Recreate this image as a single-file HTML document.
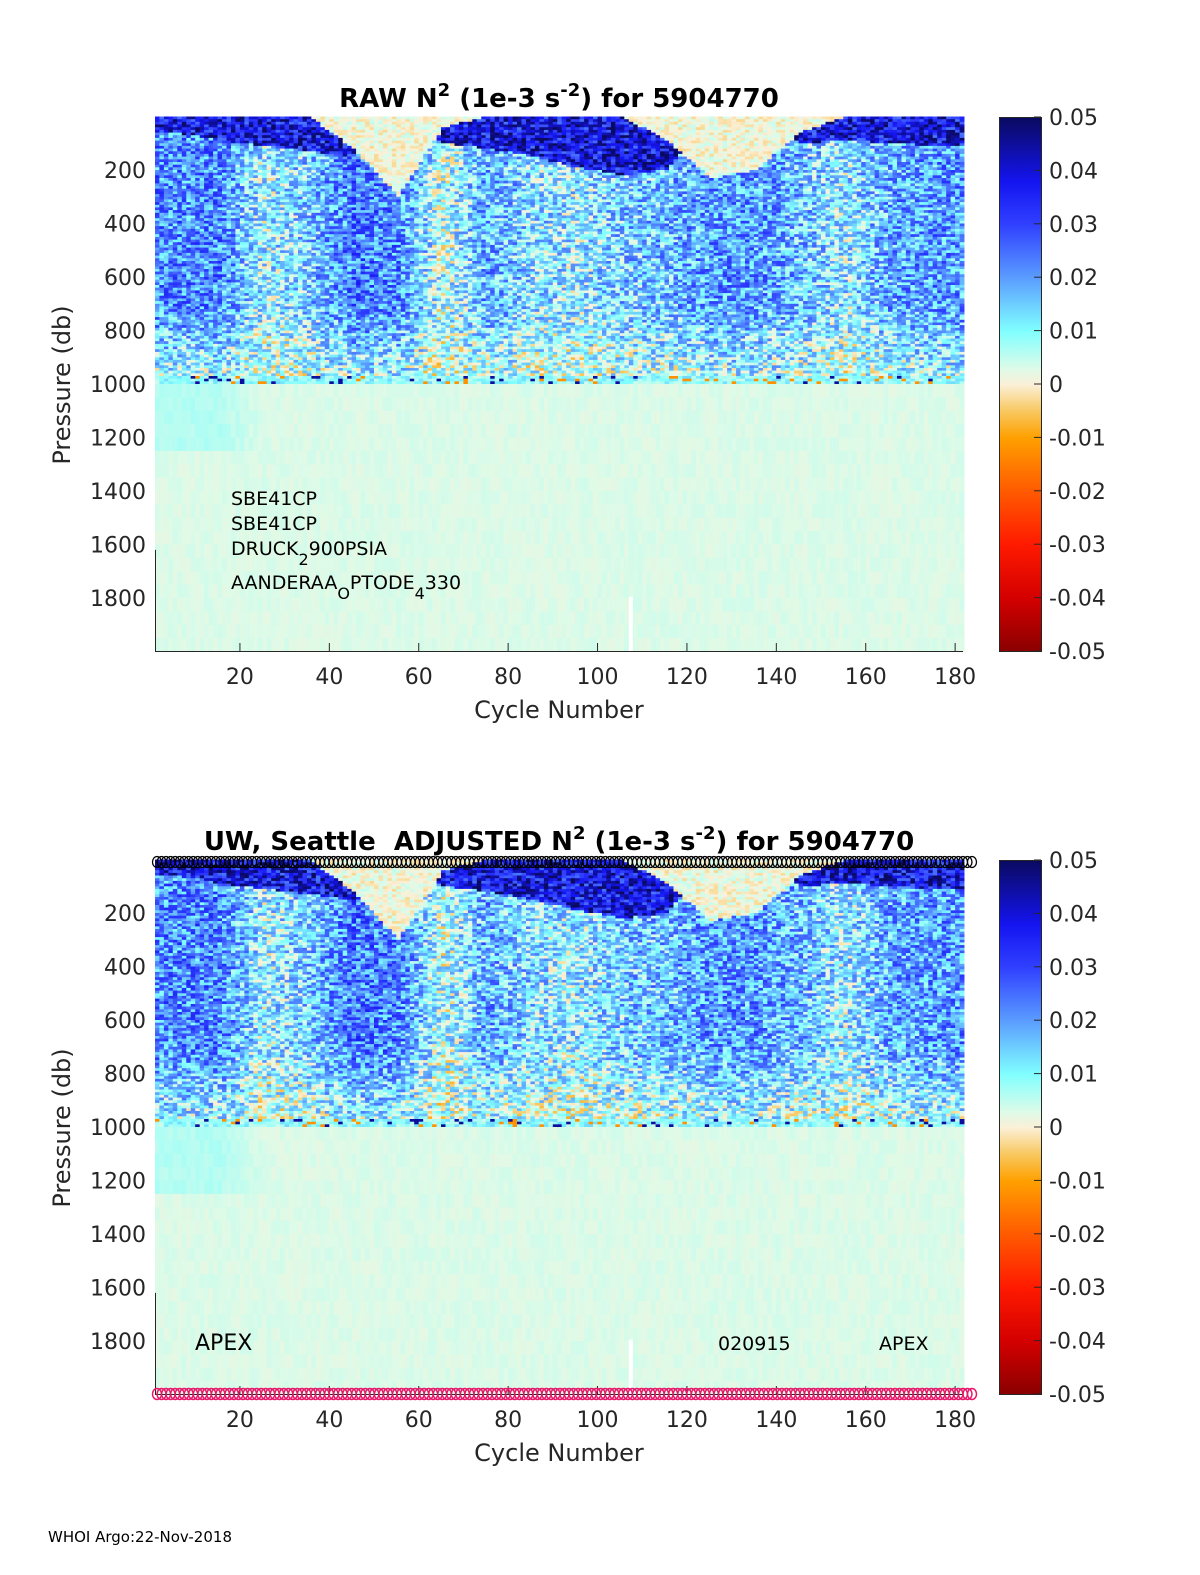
<!DOCTYPE html>
<html><head><meta charset="utf-8">
<style>
html,body{margin:0;padding:0;background:#fff;}
svg{display:block;font-family:"DejaVu Sans","Liberation Sans",sans-serif;}
</style></head>
<body>
<svg id="fig" width="1200" height="1575" viewBox="0 0 1200 1575" xmlns="http://www.w3.org/2000/svg">
<defs>
<linearGradient id="cmap" x1="0" y1="1" x2="0" y2="0">
<stop offset="0" stop-color="#8a0000"/>
<stop offset="0.1" stop-color="#d40000"/>
<stop offset="0.2" stop-color="#ff1a00"/>
<stop offset="0.3" stop-color="#ff5a00"/>
<stop offset="0.4" stop-color="#ffa000"/>
<stop offset="0.45" stop-color="#f8c860"/>
<stop offset="0.5" stop-color="#fbf0d8"/>
<stop offset="0.53" stop-color="#dcfbe8"/>
<stop offset="0.6" stop-color="#80ffff"/>
<stop offset="0.7" stop-color="#5a9cff"/>
<stop offset="0.8" stop-color="#3040ff"/>
<stop offset="0.88" stop-color="#1414f0"/>
<stop offset="1" stop-color="#0a0a60"/>
</linearGradient>
</defs>
<g id="panels"></g>
<text x="48" y="1542" font-size="15">WHOI Argo:22-Nov-2018</text>
</svg>
<script>
// per 10-cycle group data (group centres: cycles 5,15,...,175)
const groupCenters = [5,15,25,35,45,55,65,75,85,95,105,115,125,135,145,155,165,175];
const mixedLayerDepth = [0,0,0,0,120,300,40,0,0,0,0,90,230,200,60,0,0,0];
const darkLayerBottom = [60,90,110,130,150,0,100,120,150,190,220,200,0,0,100,90,100,110];
const interiorN2 = [0.022,0.022,0.009,0.014,0.024,0.022,0.006,0.018,0.012,0.010,0.014,0.016,0.020,0.020,0.016,0.010,0.018,0.020];
const deepN2 = [0.006,0.006,0.003,0.003,0.003,0.003,0.003,0.003,0.003,0.003,0.003,0.003,0.003,0.003,0.003,0.003,0.003,0.003];
const xTicks = [20,40,60,80,100,120,140,160,180];
const yTicks = [200,400,600,800,1000,1200,1400,1600,1800];
const cbTicks = [0.05,0.04,0.03,0.02,0.01,0,-0.01,-0.02,-0.03,-0.04,-0.05];
const nCycles = 181;

const NS='http://www.w3.org/2000/svg';
function xs(c){return 155+(c-1)*4.47;}
function ys(p,off){return off+116.5+p*0.2675;}
function cbY(v,off){return off+117+(0.05-v)/0.1*534;}
const cstops=[[-0.05,[138,0,0]],[-0.04,[212,0,0]],[-0.03,[255,26,0]],[-0.02,[255,90,0]],[-0.01,[255,160,0]],[-0.005,[248,200,96]],[0,[251,240,216]],[0.003,[220,251,232]],[0.01,[128,255,255]],[0.02,[90,156,255]],[0.03,[48,64,255]],[0.038,[20,20,240]],[0.05,[10,10,96]]];
function color(v){
  v=Math.max(-0.05,Math.min(0.05,v));
  for(let i=1;i<cstops.length;i++){
    if(v<=cstops[i][0]){const a=cstops[i-1],b=cstops[i];const t=(v-a[0])/(b[0]-a[0]);
      return 'rgb('+a[1].map((q,k)=>Math.round(q+(b[1][k]-q)*t)).join(',')+')';}
  }
  return 'rgb(10,10,96)';
}
function interp(arr,c){
  if(c<=groupCenters[0])return arr[0];
  for(let i=1;i<groupCenters.length;i++){if(c<=groupCenters[i]){const t=(c-groupCenters[i-1])/10;return arr[i-1]+(arr[i]-arr[i-1])*t;}}
  return arr[arr.length-1];
}
// texture hash (visual speckle only)
function tex(a,b,s){let h=(a*374761393+b*668265263+s*982451653)|0;h=Math.imul(h^(h>>>13),1274126177);h=h^(h>>>16);return ((h>>>0)%10000)/5000-1;}
function value(c,p,seed){
  const mld=interp(mixedLayerDepth,c), db=interp(darkLayerBottom,c), iv=interp(interiorN2,c), dv=interp(deepN2,c);
  const n=tex(c,Math.round(p),seed);
  if(p>=975&&p<=995){ if(Math.abs(n)>0.85) return n>0?0.045:-0.012; return 0.009+n*0.006; }
  if(p>995) return (p<1250?dv:0.003)+n*0.0009;
  if(p<mld) return 0.001+n*0.004;
  if(p<db) return 0.038+n*0.014;
  const fade=p>700?(1-(p-700)/450):1;
  return iv*fade+n*0.013;
}
function addText(g,x,y,s,size,attrs,name){
  const t=document.createElementNS(NS,'text');t.setAttribute('x',x);t.setAttribute('y',y);t.setAttribute('font-size',size);
  for(const k in attrs)t.setAttribute(k,attrs[k]);t.textContent=s;
  
  
  g.appendChild(t);return t;
}
function panel(off,seed,titleHTML,name){
  const g=document.createElementNS(NS,'g');
  
  
  document.getElementById('panels').appendChild(g);
  const hm=document.createElementNS(NS,'g');
  
  
  g.appendChild(hm);
  const w=4.47;
  for(let c=1;c<=nCycles;c++){
    const x=xs(c)-w/2+2.2;
    for(let p=0;p<2000;){
      const dp=p<1000?10:50;
      const r=document.createElementNS(NS,'rect');
      r.setAttribute('x',x.toFixed(1));r.setAttribute('y',ys(p,off).toFixed(1));
      r.setAttribute('width',(w+0.4).toFixed(2));r.setAttribute('height',(dp*0.2675+0.4).toFixed(2));
      r.setAttribute('fill',color(value(c,p+dp/2,seed)));
      
      
      hm.appendChild(r);
      p+=dp;
    }
  }
  const gap=document.createElementNS(NS,'rect');
  gap.setAttribute('x',xs(107));gap.setAttribute('y',ys(1795,off));gap.setAttribute('width',4);gap.setAttribute('height',ys(2000,off)-ys(1795,off));gap.setAttribute('fill','#fff');
  
  
  g.appendChild(gap);
  const ax=document.createElementNS(NS,'path');
  ax.setAttribute('d','M155.5 '+ys(1620,off)+' V'+(off+651.5)+' H963');
  ax.setAttribute('stroke','#262626');ax.setAttribute('fill','none');ax.setAttribute('stroke-width','1');
  
  
  g.appendChild(ax);
  xTicks.forEach(t=>{
    const l=document.createElementNS(NS,'line');l.setAttribute('x1',xs(t));l.setAttribute('x2',xs(t));l.setAttribute('y1',off+651);l.setAttribute('y2',off+643);l.setAttribute('stroke','#262626');
    
    
    g.appendChild(l);
    addText(g,xs(t),off+684,String(t),22,{'text-anchor':'middle',fill:'#262626'},'x-tick-label');
  });
  yTicks.forEach(t=>{
    addText(g,146,ys(t,off)+8,String(t),22,{'text-anchor':'end',fill:'#262626'},'y-tick-label');
  });
  addText(g,559,off+718,'Cycle Number',24,{'text-anchor':'middle',fill:'#262626'},'x-axis-title');
  addText(g,0,0,'Pressure (db)',24,{'text-anchor':'middle',fill:'#262626',transform:'translate(70,'+(off+385)+') rotate(-90)'},'y-axis-title');
  const tt=document.createElementNS(NS,'text');tt.setAttribute('x',559);tt.setAttribute('y',off+107);tt.setAttribute('text-anchor','middle');tt.setAttribute('font-size','26');tt.setAttribute('font-weight','bold');
  tt.innerHTML=titleHTML;
  
  
  g.appendChild(tt);
  const cb=document.createElementNS(NS,'rect');cb.setAttribute('x',999.5);cb.setAttribute('y',off+117.5);cb.setAttribute('width',42);cb.setAttribute('height',534);cb.setAttribute('fill','url(#cmap)');cb.setAttribute('stroke','#262626');
  
  
  g.appendChild(cb);
  cbTicks.forEach(v=>{
    const y=cbY(v,off);
    const l=document.createElementNS(NS,'line');l.setAttribute('x1',1034);l.setAttribute('x2',1041);l.setAttribute('y1',y);l.setAttribute('y2',y);l.setAttribute('stroke','#262626');
    
    
    g.appendChild(l);
    addText(g,1049,y+8,String(v),22,{fill:'#262626'},'colorbar-tick-label');
  });
  return g;
}
const topPanel=panel(0,1,'RAW N<tspan dy="-11" font-size="18">2</tspan><tspan dy="11"> (1e-3 s</tspan><tspan dy="-11" font-size="18">-2</tspan><tspan dy="11">) for 5904770</tspan>','raw-panel');
const sensors=document.createElementNS(NS,'g');


topPanel.appendChild(sensors);
sensors.innerHTML='<text x="231" y="505" font-size="19">SBE41CP</text><text x="231" y="530" font-size="19">SBE41CP</text><text x="231" y="555" font-size="19">DRUCK<tspan dy="10" font-size="16">2</tspan><tspan dy="-10">900PSIA</tspan></text><text x="231" y="589" font-size="19">AANDERAA<tspan dy="10" font-size="16">O</tspan><tspan dy="-10">PTODE</tspan><tspan dy="10" font-size="16">4</tspan><tspan dy="-10">330</tspan></text>';
const OFF=743;
const botPanel=panel(OFF,2,'UW, Seattle&#160; ADJUSTED N<tspan dy="-11" font-size="18">2</tspan><tspan dy="11"> (1e-3 s</tspan><tspan dy="-11" font-size="18">-2</tspan><tspan dy="11">) for 5904770</tspan>','adjusted-panel');
for(let c=1;c<=nCycles;c++){
  const cx=157+(c-1)*(972-157)/(nCycles-1);
  const a=document.createElementNS(NS,'ellipse');a.setAttribute('cx',cx);a.setAttribute('cy',862);a.setAttribute('rx',4.5);a.setAttribute('ry',5.5);a.setAttribute('fill','none');a.setAttribute('stroke','#000');a.setAttribute('stroke-width','1.3');
  
  
  botPanel.appendChild(a);
  const b=document.createElementNS(NS,'ellipse');b.setAttribute('cx',cx);b.setAttribute('cy',1394);b.setAttribute('rx',4.5);b.setAttribute('ry',5.5);b.setAttribute('fill','none');b.setAttribute('stroke','#e8176a');b.setAttribute('stroke-width','1.5');
  
  
  botPanel.appendChild(b);
}
addText(botPanel,195,1350,'APEX',22,{fill:'#000'},'float-type-label');
addText(botPanel,718,1350,'020915',19,{fill:'#000'},'firmware-label');
addText(botPanel,879,1350,'APEX',19,{fill:'#000'},'platform-label');
</script>
</body></html>
